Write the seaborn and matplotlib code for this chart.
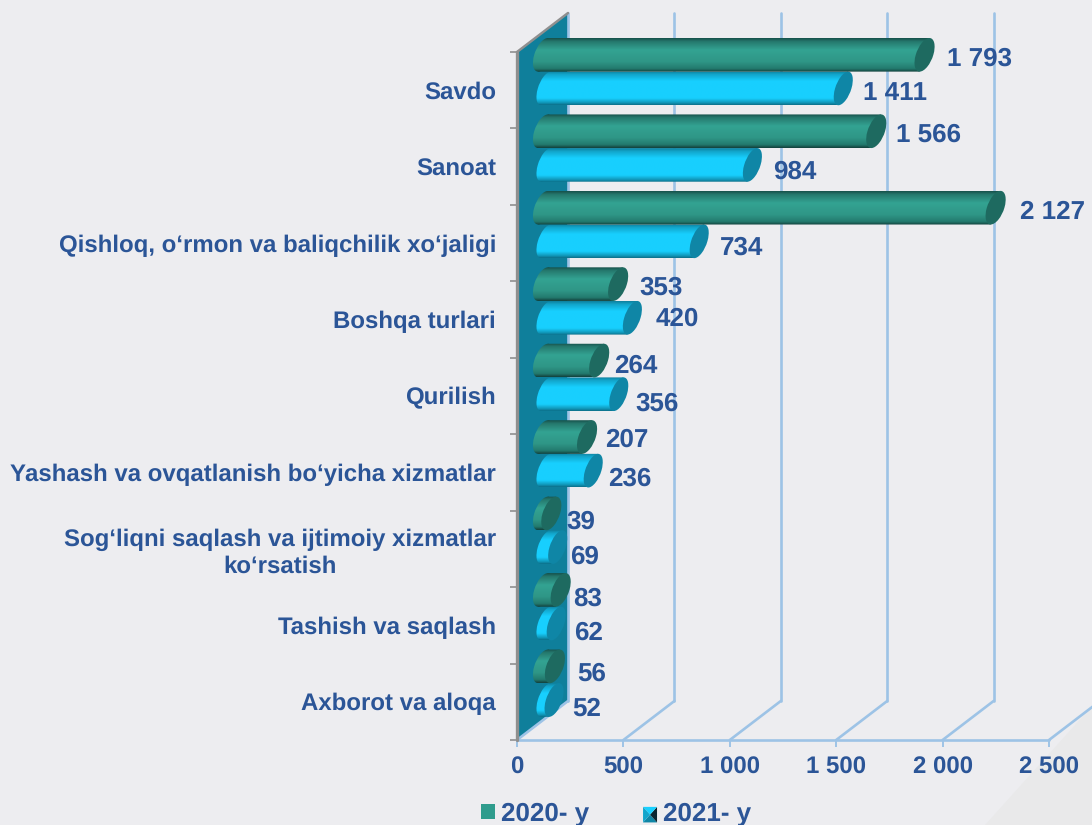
import numpy as np
import pandas as pd
import matplotlib
matplotlib.use("Agg")
import matplotlib.pyplot as plt
import seaborn as sns
from matplotlib.colors import LinearSegmentedColormap
from matplotlib.lines import Line2D
from matplotlib.patches import PathPatch, Patch, Polygon
from matplotlib.path import Path
from matplotlib.transforms import Affine2D, IdentityTransform, blended_transform_factory

categories = [
    "Savdo",
    "Sanoat",
    "Qishloq, o‘rmon va baliqchilik xo‘jaligi",
    "Boshqa turlari",
    "Qurilish",
    "Yashash va ovqatlanish bo‘yicha xizmatlar",
    "Sog‘liqni saqlash va ijtimoiy xizmatlar\nko‘rsatish",
    "Tashish va saqlash",
    "Axborot va aloqa",
]
values_2020 = [1793, 1566, 2127, 353, 264, 207, 39, 83, 56]
values_2021 = [1411, 984, 734, 420, 356, 236, 69, 62, 52]
series_names = ["2020- y", "2021- y"]
x_ticks = [0, 500, 1000, 1500, 2000, 2500]
x_tick_labels = ["0", "500", "1 000", "1 500", "2 000", "2 500"]

# hand placed data labels in the original, pixel nudges per label
nudge_x = [[0, -3, 2, -2, -8, -5, -8, -10, -1], [-2, -2, -2, 1, -6, -7, -10, -4, -4]]
nudge_y = [[1, 1, 2, 1, 3, 0, 6, 6, 5], [2, 4, 4, -1, 7, 6, 7, 7, 6]]

TEXT = "#2B5597"
GRID = "#9DC3E6"
WALL = "#0F7F9B"
BG = "#EDEDF0"

sns.set_theme(style="white")
plt.rcParams["font.family"] = ["Liberation Sans", "DejaVu Sans"]
plt.rcParams["font.weight"] = "bold"
plt.rcParams["text.hinting"] = "none"
plt.rcParams["text.hinting_factor"] = 1

W, H = 1092, 825
fig = plt.figure(figsize=(W / 100, H / 100), dpi=100, facecolor=BG)
ax = fig.add_axes([517 / W, (H - 740) / H, 532 / W, 688 / H])
ax.patch.set_alpha(0)

# soft darker corner of the slide, bottom right
fig.patches.append(Polygon([(985 / W, 0), (1 + 0.001, 0), (1 + 0.001, 120 / H)], transform=fig.transFigure,
                           facecolor="#E9E9EA", edgecolor="none", zorder=-1))

df = pd.DataFrame({
    "category": categories * 2,
    "value": values_2020 + values_2021,
    "year": [series_names[0]] * 9 + [series_names[1]] * 9,
})
sns.barplot(data=df, y="category", x="value", hue="year", orient="h", ax=ax,
            width=0.88, gap=0, legend=False, palette=["#2F9C8D", "#17CCFF"], errorbar=None)

ax.autoscale(False)
ax.set_xlim(0, 2500)
ax.set_ylim(8.5, -0.5)
ax.set_xlabel("")
ax.set_ylabel("")
sns.despine(ax=ax, left=True, bottom=True)

# 3D look: wall depth in pixels, bars sit half way in
depth_x, depth_y = 51, 39
bar_shift = Affine2D().translate(26, 18.6)
bar_trans = ax.transData + bar_shift
SKEW = 0.29

# back wall
wall_trans = ax.transAxes
wall_dx = depth_x / 532
wall_dy = depth_y / 688
ax.add_patch(Polygon([(0, 0), (0, 1), (wall_dx, 1 + wall_dy), (wall_dx, wall_dy)],
                     transform=wall_trans, facecolor=WALL, edgecolor="none", zorder=1, clip_on=False))
ax.plot([0, wall_dx], [1, 1 + wall_dy], transform=wall_trans, color="#8F8F8F", lw=1.8, clip_on=False, zorder=2)
ax.plot([0, 0], [0, 1], transform=wall_trans, color="#8F8F8F", lw=2.4, clip_on=False, zorder=2)

# gridlines: wall part and floor part
grid_trans = blended_transform_factory(ax.transData, ax.transAxes)
for tick in x_ticks:
    back = grid_trans + Affine2D().translate(depth_x, 0)
    if tick < 2500:
        ax.plot([tick, tick], [wall_dy, 1 + wall_dy], transform=back, color=GRID, lw=1.9, clip_on=False, zorder=1.5)
    ax.plot([tick, tick + depth_x * 2500 / 532], [0, wall_dy], transform=grid_trans, color=GRID, lw=1.9,
            clip_on=False, zorder=1.5)
ax.plot([0, 2500], [0, 0], transform=grid_trans, color=GRID, lw=1.9, clip_on=False, zorder=1.5)

# ticks
ax.set_xticks(x_ticks)
ax.set_xticklabels(x_tick_labels, fontsize=17, fontweight="bold", color=TEXT)
ax.tick_params(axis="x", length=5, width=1.4, color=GRID, pad=7, bottom=True)
ax.set_yticks(range(9))
ax.set_yticklabels(categories, fontsize=17.3, fontweight="bold", color=TEXT, ma="center", linespacing=1.2)
ax.tick_params(axis="y", which="major", length=0, pad=15, left=False)
ax.set_yticks(np.arange(-0.5, 9, 1), minor=True)
ax.tick_params(axis="y", which="minor", length=5, width=1.2, color="#8F8F8F", left=True)


def make_cap_path(cx, cy, rx, ry):
    return Affine2D().scale(rx, ry).skew(np.arctan(SKEW), 0).translate(cx, cy).transform_path(Path.unit_circle())


def gradient_image(cmap, x0, x1, y0, y1, z, clip_patch):
    im = ax.imshow(np.linspace(0, 1, 256).reshape(-1, 1), cmap=cmap, vmin=0, vmax=1, aspect="auto",
                   origin="upper", extent=(x0, x1, y0, y1), transform=IdentityTransform(), zorder=z,
                   interpolation="bilinear")
    im.set_clip_path(clip_patch)
    im.set_clip_box(fig.bbox)


green_cmap = LinearSegmentedColormap.from_list("g", [(0, "#17504A"), (0.1, "#25786D"), (0.35, "#33A392"),
                                                     (0.7, "#2F9686"), (0.9, "#237A6E"), (1, "#123F3A")])
cyan_cmap = LinearSegmentedColormap.from_list("c", [(0, "#0E7F9C"), (0.1, "#12A6CC"), (0.3, "#18D0FF"),
                                                    (0.8, "#18CFFE"), (0.93, "#1198BA"), (1, "#0B6E88")])
styles = [
    {"cmap": green_cmap, "cap": "#1E6A60", "rx": 8.8, "base_shift": 0},
    {"cmap": cyan_cmap, "cap": "#0F86A6", "rx": 8.2, "base_shift": 3},
]

fig.canvas.draw()
z = 3
for i in reversed(range(9)):
    for s in (1, 0):
        bar = ax.containers[s][i]
        st = styles[s]
        value = bar.get_width()
        y_mid = bar.get_y() + bar.get_height() / 2
        cx, cy = bar_trans.transform((value, y_mid))
        bx, _ = bar_trans.transform((0, y_mid))
        _, top = bar_trans.transform((0, bar.get_y()))
        _, bottom = bar_trans.transform((0, bar.get_y() + bar.get_height()))
        ry = (top - bottom) / 2
        bx = bx + st["base_shift"]
        lean = SKEW * ry

        # left rounded end, then body, then end cap
        base = PathPatch(make_cap_path(bx, cy, st["rx"], ry), transform=IdentityTransform(),
                         facecolor="none", edgecolor="none", zorder=z, clip_on=False)
        ax.add_patch(base)
        gradient_image(st["cmap"], bx - 20, cx + 20, bottom, top, z, base)

        if cx > bx:
            outline = [(bx - lean, bottom), (cx - lean, bottom), (cx + lean, top), (bx + lean, top), (bx - lean, bottom)]
            body = PathPatch(Path(outline), transform=IdentityTransform(), facecolor="none", edgecolor="none",
                             zorder=z, clip_on=False)
            ax.add_patch(body)
            gradient_image(st["cmap"], bx - 20, cx + 20, bottom, top, z + 0.1, body)
        bar.set_visible(False)

        cap = PathPatch(make_cap_path(cx, cy, st["rx"], ry), transform=IdentityTransform(),
                        facecolor=st["cap"], edgecolor="none", zorder=z + 0.2, clip_on=False)
        ax.add_patch(cap)

        label = f"{int(value):,}".replace(",", " ")
        ax.annotate(label, xy=(cx, cy), xycoords=IdentityTransform(),
                    xytext=(st["rx"] + 14 + nudge_x[s][i], -nudge_y[s][i]),
                    textcoords="offset pixels", ha="left", va="center_baseline", fontsize=18.7, fontweight="bold",
                    color=TEXT, zorder=100, annotation_clip=False)
        z += 1


# legend swatch for 2021 has a bevel
class BevelHandler:
    def legend_artist(self, legend, orig_handle, fontsize, handlebox):
        x, y = handlebox.xdescent, handlebox.ydescent
        w, h = handlebox.width, handlebox.height
        corners = [(x, y), (x + w, y), (x + w, y + h), (x, y + h)]
        mid = (x + w / 2, y + h / 2)
        faces = ["#0F86A6", "#0A2530", "#18D0FF", "#12A6CC"]
        art = None
        for k in range(4):
            art = Polygon([corners[k], corners[(k + 1) % 4], mid], facecolor=faces[k], edgecolor="none",
                          transform=handlebox.get_transform())
            handlebox.add_artist(art)
        return art


handles = [Patch(facecolor="#2F9C8D", edgecolor="none"), Line2D([], [])]
fig.legend(handles, series_names, loc="lower left", bbox_to_anchor=(457 / W, -25 / H), ncol=2, frameon=False,
           prop={"size": 19, "weight": "bold", "family": "Liberation Sans"}, labelcolor=TEXT,
           handlelength=0.53, handleheight=0.53, handletextpad=0.23, columnspacing=2.05,
           handler_map={Line2D: BevelHandler()})

fig.savefig("out.png", dpi=100, facecolor=BG)
